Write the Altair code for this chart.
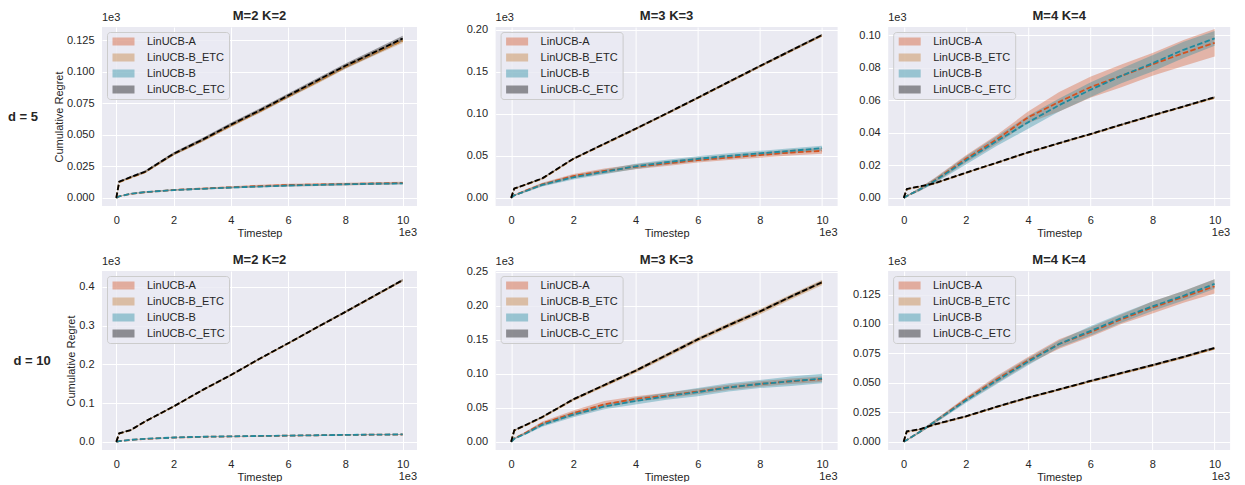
import altair as alt
import pandas as pd

FONT = "Liberation Sans"
TEXT = "#262626"

# x positions (timestep, units of 1e3)
X = [0, 0.1, 0.5, 1, 2, 3, 4, 5, 6, 7, 8, 9, 10]

SERIES = ["LinUCB-A", "LinUCB-B_ETC", "LinUCB-B", "LinUCB-C_ETC"]
COLORS = ["#d4511f", "#c27b2f", "#1f8a9e", "#000000"]

# ---------------- d = 5, M=2 K=2 ----------------
D5M2_A = [0, 0.0012, 0.0032, 0.0045, 0.0063, 0.0074, 0.0084, 0.0094, 0.0102, 0.0106, 0.011, 0.0114, 0.0118]
D5M2_A_E = [0, 0.0002, 0.0004, 0.0005, 0.0006, 0.0007, 0.0008, 0.001, 0.0011, 0.0011, 0.0011, 0.001, 0.001]
D5M2_BE = [0, 0.0124, 0.016, 0.0203, 0.0346, 0.0455, 0.0573, 0.0685, 0.0803, 0.0918, 0.1038, 0.1143, 0.1245]
D5M2_BE_E = [0, 0.0006, 0.0007, 0.0008, 0.001, 0.0012, 0.0013, 0.0014, 0.0015, 0.0016, 0.0017, 0.0018, 0.0019]
D5M2_B = [0, 0.0013, 0.0033, 0.0046, 0.0062, 0.0072, 0.0082, 0.009, 0.0098, 0.0103, 0.0108, 0.0112, 0.0115]
D5M2_B_E = [0, 0.0002, 0.0004, 0.0005, 0.0006, 0.0006, 0.0007, 0.0007, 0.0008, 0.0008, 0.0008, 0.0008, 0.0008]
D5M2_C = [0, 0.0128, 0.0165, 0.0207, 0.035, 0.046, 0.058, 0.0692, 0.081, 0.0928, 0.1046, 0.1152, 0.1262]
D5M2_C_E = [0, 0.0006, 0.0008, 0.001, 0.0012, 0.0014, 0.0015, 0.0016, 0.0017, 0.0018, 0.0019, 0.002, 0.0021]

# ---------------- d = 5, M=3 K=3 ----------------
D5M3_A = [0, 0.003, 0.009, 0.016, 0.026, 0.032, 0.037, 0.041, 0.045, 0.048, 0.051, 0.054, 0.056]
D5M3_A_E = [0, 0.0008, 0.0015, 0.002, 0.0025, 0.003, 0.003, 0.003, 0.003, 0.003, 0.0032, 0.0035, 0.0035]
D5M3_BE = [0, 0.0108, 0.016, 0.0228, 0.0462, 0.064, 0.0818, 0.1002, 0.1188, 0.1378, 0.1565, 0.175, 0.1935]
D5M3_BE_E = [0, 0.0006, 0.0007, 0.0008, 0.0009, 0.001, 0.0011, 0.0012, 0.0012, 0.0013, 0.0013, 0.0014, 0.0015]
D5M3_B = [0, 0.003, 0.0085, 0.0155, 0.0245, 0.031, 0.0375, 0.0425, 0.0465, 0.05, 0.053, 0.056, 0.0592]
D5M3_B_E = [0, 0.0008, 0.0015, 0.002, 0.0025, 0.0028, 0.003, 0.003, 0.003, 0.003, 0.003, 0.003, 0.003]
D5M3_C = [0, 0.0112, 0.0163, 0.0232, 0.0466, 0.0645, 0.0823, 0.1006, 0.1192, 0.1382, 0.157, 0.1755, 0.194]
D5M3_C_E = [0, 0.0006, 0.0007, 0.0008, 0.0009, 0.001, 0.0011, 0.0012, 0.0012, 0.0013, 0.0013, 0.0014, 0.0015]

# ---------------- d = 5, M=4 K=4 ----------------
D5M4_A = [0, 0.0012, 0.005, 0.0108, 0.024, 0.036, 0.0495, 0.059, 0.068, 0.075, 0.082, 0.089, 0.0953]
D5M4_A_E = [0, 0.0003, 0.001, 0.0015, 0.0022, 0.0028, 0.0035, 0.006, 0.0065, 0.007, 0.007, 0.008, 0.0085]
D5M4_BE = [0, 0.0053, 0.0068, 0.0088, 0.0153, 0.0215, 0.0278, 0.0335, 0.039, 0.0448, 0.0505, 0.056, 0.0615]
D5M4_BE_E = [0, 0.0002, 0.0002, 0.0003, 0.0003, 0.0004, 0.0004, 0.0004, 0.0005, 0.0005, 0.0005, 0.0005, 0.0006]
D5M4_B = [0, 0.0012, 0.005, 0.0105, 0.023, 0.035, 0.0464, 0.057, 0.0664, 0.075, 0.0827, 0.091, 0.098]
D5M4_B_E = [0, 0.0003, 0.001, 0.0015, 0.0025, 0.003, 0.004, 0.004, 0.0045, 0.0045, 0.005, 0.005, 0.0045]
D5M4_C = [0, 0.0055, 0.007, 0.009, 0.0155, 0.0217, 0.028, 0.0337, 0.0392, 0.045, 0.0507, 0.0562, 0.0618]
D5M4_C_E = [0, 0.0002, 0.0002, 0.0003, 0.0003, 0.0004, 0.0004, 0.0004, 0.0005, 0.0005, 0.0005, 0.0005, 0.0006]

# ---------------- d = 10, M=2 K=2 ----------------
D10M2_A = [0, 0.002, 0.005, 0.0075, 0.011, 0.013, 0.014, 0.015, 0.016, 0.017, 0.018, 0.0185, 0.019]
D10M2_A_E = [0, 0.0003, 0.0005, 0.0006, 0.0007, 0.0008, 0.0008, 0.0009, 0.0009, 0.001, 0.001, 0.001, 0.001]
D10M2_BE = [0, 0.0215, 0.03, 0.052, 0.091, 0.133, 0.172, 0.214, 0.254, 0.295, 0.335, 0.376, 0.417]
D10M2_BE_E = [0, 0.0008, 0.001, 0.0012, 0.0014, 0.0016, 0.0018, 0.002, 0.0022, 0.0024, 0.0026, 0.0028, 0.003]
D10M2_B = [0, 0.002, 0.0052, 0.0078, 0.0112, 0.0132, 0.0143, 0.0152, 0.0162, 0.0171, 0.018, 0.0187, 0.0192]
D10M2_B_E = [0, 0.0003, 0.0005, 0.0006, 0.0007, 0.0008, 0.0008, 0.0009, 0.0009, 0.001, 0.001, 0.001, 0.001]
D10M2_C = [0, 0.022, 0.0305, 0.0525, 0.0915, 0.1335, 0.1725, 0.2145, 0.2545, 0.2955, 0.3355, 0.3765, 0.4175]
D10M2_C_E = [0, 0.0008, 0.001, 0.0012, 0.0014, 0.0016, 0.0018, 0.002, 0.0022, 0.0024, 0.0026, 0.0028, 0.003]

# ---------------- d = 10, M=3 K=3 ----------------
D10M3_A = [0, 0.005, 0.014, 0.027, 0.042, 0.055, 0.063, 0.068, 0.074, 0.08, 0.085, 0.089, 0.092]
D10M3_A_E = [0, 0.001, 0.002, 0.003, 0.004, 0.005, 0.004, 0.004, 0.004, 0.004, 0.004, 0.004, 0.004]
D10M3_BE = [0, 0.0165, 0.025, 0.036, 0.062, 0.083, 0.104, 0.127, 0.15, 0.171, 0.191, 0.213, 0.234]
D10M3_BE_E = [0, 0.0008, 0.001, 0.0015, 0.002, 0.0025, 0.003, 0.003, 0.0035, 0.0035, 0.004, 0.004, 0.004]
D10M3_B = [0, 0.0045, 0.013, 0.025, 0.04, 0.052, 0.06, 0.067, 0.073, 0.08, 0.085, 0.089, 0.093]
D10M3_B_E = [0, 0.001, 0.002, 0.003, 0.004, 0.004, 0.005, 0.005, 0.006, 0.006, 0.006, 0.007, 0.007]
D10M3_C = [0, 0.017, 0.0255, 0.0365, 0.0625, 0.0835, 0.1045, 0.1275, 0.1505, 0.1715, 0.1915, 0.2135, 0.2345]
D10M3_C_E = [0, 0.0006, 0.0008, 0.001, 0.0012, 0.0014, 0.0015, 0.0016, 0.0017, 0.0018, 0.0019, 0.002, 0.002]

# ---------------- d = 10, M=4 K=4 ----------------
D10M4_A = [0, 0.0015, 0.008, 0.017, 0.036, 0.053, 0.069, 0.083, 0.093, 0.104, 0.114, 0.123, 0.132]
D10M4_A_E = [0, 0.0005, 0.001, 0.0015, 0.002, 0.003, 0.003, 0.004, 0.004, 0.004, 0.005, 0.005, 0.006]
D10M4_BE = [0, 0.0085, 0.0102, 0.0145, 0.0213, 0.0295, 0.0372, 0.0442, 0.0512, 0.058, 0.0647, 0.0717, 0.0792]
D10M4_BE_E = [0, 0.0003, 0.0004, 0.0005, 0.0006, 0.0007, 0.0008, 0.0008, 0.0009, 0.0009, 0.001, 0.001, 0.001]
D10M4_B = [0, 0.0015, 0.008, 0.017, 0.035, 0.052, 0.068, 0.083, 0.094, 0.105, 0.115, 0.124, 0.134]
D10M4_B_E = [0, 0.0005, 0.001, 0.0015, 0.002, 0.003, 0.003, 0.003, 0.004, 0.004, 0.004, 0.004, 0.004]
D10M4_C = [0, 0.0088, 0.0105, 0.0148, 0.0216, 0.0298, 0.0375, 0.0445, 0.0516, 0.0584, 0.0651, 0.0721, 0.0797]
D10M4_C_E = [0, 0.0003, 0.0004, 0.0005, 0.0006, 0.0007, 0.0008, 0.0008, 0.0009, 0.0009, 0.001, 0.001, 0.001]

X_TICKS = [0, 2, 4, 6, 8, 10]

H = 179
W1 = 315
W2 = 342

LEGEND_SYMBOL = "M-1,-1H4.5V1H-1Z"


def panel(title, means, errs, ydomain, yticks, yfmt, width, ylabel=None, row_label=None, row_label_x=0):
    rows = []
    for s, m, e in zip(SERIES, means, errs):
        for xi, mi, ei in zip(X, m, e):
            rows.append({"x": xi, "series": s, "mean": mi, "lo": mi - ei, "hi": mi + ei})
    df = pd.DataFrame(rows)

    xscale = alt.Scale(domain=[-0.5, 10.5], nice=False, zero=False)
    xaxis = alt.Axis(values=X_TICKS, format="d", title="Timestep")
    yscale = alt.Scale(domain=ydomain, nice=False, zero=False)
    yaxis = alt.Axis(values=yticks, format=yfmt, title=ylabel if ylabel else None)

    base = alt.Chart(df)
    band = base.mark_area(opacity=0.35).encode(
        x=alt.X("x:Q", scale=xscale, axis=xaxis),
        y=alt.Y("lo:Q", scale=yscale, axis=yaxis),
        y2="hi:Q",
        fill=alt.Fill(
            "series:N",
            scale=alt.Scale(domain=SERIES, range=COLORS),
            legend=alt.Legend(
                title=None,
                orient="top-left",
                offset=5,
                padding=4,
                fillColor="rgba(234,234,242,0.8)",
                strokeColor="#cccccc",
                cornerRadius=3,
                labelFont=FONT,
                labelFontSize=11,
                labelColor=TEXT,
                symbolType=LEGEND_SYMBOL,
                symbolSize=64,
                symbolOpacity=0.4,
                symbolStrokeWidth=0,
                labelOffset=25,
                rowPadding=4,
            ),
        ),
    )
    layers = [band]
    for s, c in zip(SERIES, COLORS):
        ln = (
            base.transform_filter(alt.datum.series == s)
            .mark_line(color=c, strokeWidth=1.8, strokeDash=[5.5, 2.4])
            .encode(
                x=alt.X("x:Q", scale=xscale, axis=xaxis),
                y=alt.Y("mean:Q", scale=yscale, axis=yaxis),
            )
        )
        layers.append(ln)

    lab = pd.DataFrame({"t": ["1e3"]})
    top_txt = alt.Chart(lab).mark_text(
        align="left", baseline="middle", font=FONT, fontSize=11, color=TEXT
    ).encode(x=alt.value(0), y=alt.value(-9), text="t:N")
    bot_txt = alt.Chart(lab).mark_text(
        align="right", baseline="middle", font=FONT, fontSize=11, color=TEXT
    ).encode(x=alt.value(width), y=alt.value(H + 27), text="t:N")
    layers += [top_txt, bot_txt]

    if row_label:
        rl = pd.DataFrame({"t": [row_label]})
        layers.append(
            alt.Chart(rl).mark_text(
                align="center", baseline="middle", font=FONT, fontSize=13,
                fontWeight="bold", color=TEXT
            ).encode(x=alt.value(row_label_x), y=alt.value(H / 2), text="t:N")
        )

    return alt.layer(*layers).properties(
        width=width,
        height=H,
        title=alt.TitleParams(title, frame="group", offset=-11, anchor="middle"),
    )


p11 = panel("M=2 K=2",
            [D5M2_A, D5M2_BE, D5M2_B, D5M2_C], [D5M2_A_E, D5M2_BE_E, D5M2_B_E, D5M2_C_E],
            [-0.0064, 0.1353], [0, 0.025, 0.05, 0.075, 0.1, 0.125], ".3f", W1,
            ylabel="Cumulative Regret", row_label="d = 5", row_label_x=-79)
p12 = panel("M=3 K=3",
            [D5M3_A, D5M3_BE, D5M3_B, D5M3_C], [D5M3_A_E, D5M3_BE_E, D5M3_B_E, D5M3_C_E],
            [-0.0097, 0.2035], [0, 0.05, 0.1, 0.15, 0.2], ".2f", W2)
p13 = panel("M=4 K=4",
            [D5M4_A, D5M4_BE, D5M4_B, D5M4_C], [D5M4_A_E, D5M4_BE_E, D5M4_B_E, D5M4_C_E],
            [-0.005, 0.105], [0, 0.02, 0.04, 0.06, 0.08, 0.1], ".2f", W2)

p21 = panel("M=2 K=2",
            [D10M2_A, D10M2_BE, D10M2_B, D10M2_C], [D10M2_A_E, D10M2_BE_E, D10M2_B_E, D10M2_C_E],
            [-0.021, 0.441], [0, 0.1, 0.2, 0.3, 0.4], ".1f", W1,
            ylabel="Cumulative Regret", row_label="d = 10", row_label_x=-70)
p22 = panel("M=3 K=3",
            [D10M3_A, D10M3_BE, D10M3_B, D10M3_C], [D10M3_A_E, D10M3_BE_E, D10M3_B_E, D10M3_C_E],
            [-0.012, 0.251], [0, 0.05, 0.1, 0.15, 0.2, 0.25], ".2f", W2)
p23 = panel("M=4 K=4",
            [D10M4_A, D10M4_BE, D10M4_B, D10M4_C], [D10M4_A_E, D10M4_BE_E, D10M4_B_E, D10M4_C_E],
            [-0.007, 0.145], [0, 0.025, 0.05, 0.075, 0.1, 0.125], ".3f", W2)


def indep(ch):
    return ch.resolve_scale(y="independent", fill="independent").resolve_legend(fill="independent").resolve_axis(y="independent", x="independent")


def row(a, b, c, outer_gap, inner_gap):
    inner = indep(alt.hconcat(b, c, spacing=inner_gap))
    return indep(alt.hconcat(a, inner, spacing=outer_gap))


chart = indep(alt.vconcat(
    row(p11, p12, p13, 48.6, 20.6),
    row(p21, p22, p23, 48.6, 14.5),
    spacing=16,
))

chart = chart.properties(
    padding={"top": 2, "left": 0, "right": 0, "bottom": 0}
).configure_view(
    fill="#EAEAF2", stroke=None
).configure_axis(
    grid=True, gridColor="white", gridWidth=1, domain=False, ticks=False, tickSize=0,
    labelFont=FONT, labelFontSize=11, labelColor=TEXT, labelPadding=8,
    titleFont=FONT, titleFontSize=11, titleFontWeight="normal", titleColor=TEXT, titlePadding=2,
).configure_title(
    font=FONT, fontSize=13, fontWeight="bold", color=TEXT
)

chart.save("out.html", embed_options={"renderer": "svg", "actions": False})
